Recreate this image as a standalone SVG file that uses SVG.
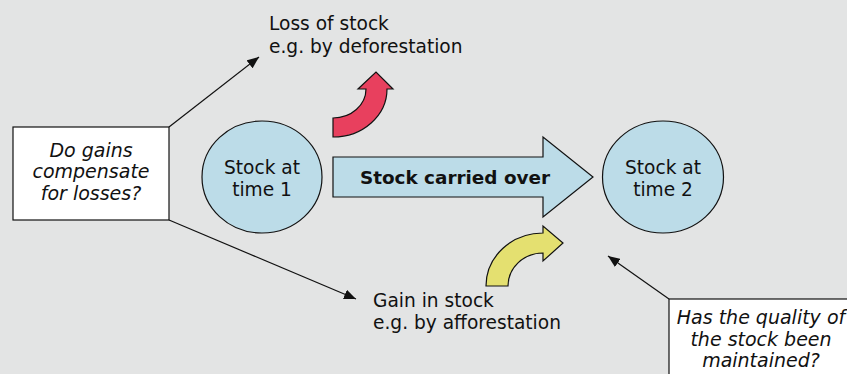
<svg xmlns="http://www.w3.org/2000/svg" width="847" height="374" viewBox="0 0 847 374">
<defs>
<style>
text{font-family:"DejaVu Sans","Verdana",sans-serif;font-size:18.6px;fill:#111;}
.c{text-anchor:middle;}
.i{font-style:italic;font-size:19px;}
.b{font-weight:bold;font-size:18.4px;}
.node{fill:#BCDCE8;stroke:#111;stroke-width:1.2;}
.box{fill:#fff;stroke:#111;stroke-width:1.2;}
.conn{stroke:#111;stroke-width:1.2;fill:none;marker-end:url(#ah);}
</style>
<marker id="ah" viewBox="0 0 12 10" refX="12" refY="5" markerWidth="12" markerHeight="10" markerUnits="userSpaceOnUse" orient="auto">
<path d="M0,0 L12,5 L0,10 Z" fill="#111"/>
</marker>
</defs>
<rect x="0" y="0" width="847" height="374" fill="#E3E4E4"/>
<g id="connectors">
<line class="conn" x1="169" y1="127" x2="259" y2="57"/>
<line class="conn" x1="169" y1="220" x2="356" y2="299"/>
<line class="conn" x1="669" y1="299" x2="608" y2="256"/>
</g>
<g id="question-left">
<rect class="box" x="13" y="127" width="156" height="93"/>
<text class="c i" x="91" y="157">Do gains</text>
<text class="c i" x="91" y="178">compensate</text>
<text class="c i" x="91" y="200">for losses?</text>
</g>
<g id="stock1">
<ellipse class="node" cx="262" cy="177" rx="60" ry="56"/>
<text class="c" x="262" y="174">Stock at</text>
<text class="c" x="262" y="196">time 1</text>
</g>
<g id="carried">
<polygon class="node" points="333,157 543,157 543,137 593,177 543,217 543,197 333,197"/>
<text class="c b" x="455" y="184">Stock carried over</text>
</g>
<g id="stock2">
<ellipse class="node" cx="663" cy="177" rx="60.5" ry="56"/>
<text class="c" x="663" y="174">Stock at</text>
<text class="c" x="663" y="196">time 2</text>
</g>
<g id="loss-arrow">
<path d="M333,118 A33,29 0 0 0 366,89 L358,89 L376,72 L393,89 L387,89 A54,48 0 0 1 333,137 Z" fill="#E8405E" stroke="#111" stroke-width="1.2"/>
</g>
<g id="gain-arrow">
<path d="M486,286 A57,53 0 0 1 543,233 L543,226 L563,243 L543,261 L543,253 A35,33 0 0 0 508,286 Z" fill="#E4E070" stroke="#111" stroke-width="1.2"/>
</g>
<g id="loss-label">
<text x="269" y="30">Loss of stock</text>
<text x="269" y="53">e.g. by deforestation</text>
</g>
<g id="gain-label">
<text x="373" y="307">Gain in stock</text>
<text x="373" y="329">e.g. by afforestation</text>
</g>
<g id="question-right">
<rect class="box" x="669" y="299" width="200" height="100"/>
<text class="c i" x="761" y="324">Has the quality of</text>
<text class="c i" x="761" y="346">the stock been</text>
<text class="c i" x="761" y="367">maintained?</text>
</g>
</svg>
